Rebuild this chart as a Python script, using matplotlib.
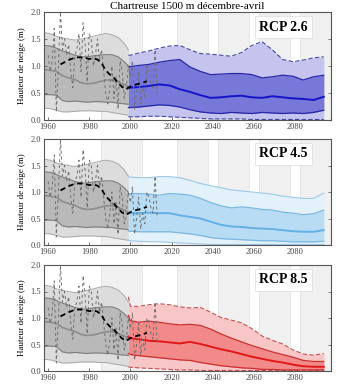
import matplotlib
matplotlib.use("Agg")
import matplotlib.pyplot as plt
import numpy as np

plt.rcParams['font.family'] = ['Liberation Serif', 'DejaVu Serif']

title = "Chartreuse 1500 m décembre-avril"
ylabel = "Hauteur de neige (m)"
scenarios = ["RCP 2.6", "RCP 4.5", "RCP 8.5"]

# ---- reanalysis (grey) ----
hist_years = [1958, 1961, 1964, 1967, 1970, 1973, 1976, 1979, 1982, 1985, 1988, 1991, 1994, 1997, 1999]
hist_q05 = [0.22, 0.21, 0.18, 0.15, 0.15, 0.16, 0.17, 0.17, 0.17, 0.16, 0.16, 0.14, 0.12, 0.10, 0.09]
hist_q25 = [0.47, 0.47, 0.46, 0.36, 0.34, 0.35, 0.34, 0.33, 0.34, 0.34, 0.33, 0.33, 0.31, 0.30, 0.29]
hist_q50 = [0.93, 0.92, 0.90, 0.82, 0.78, 0.75, 0.69, 0.67, 0.68, 0.71, 0.74, 0.74, 0.71, 0.66, 0.62]
hist_q75 = [1.38, 1.37, 1.33, 1.28, 1.24, 1.20, 1.17, 1.17, 1.19, 1.20, 1.21, 1.21, 1.17, 1.08, 1.00]
hist_q95 = [1.62, 1.60, 1.55, 1.52, 1.50, 1.48, 1.50, 1.52, 1.55, 1.58, 1.60, 1.58, 1.53, 1.42, 1.30]

# ---- observations ----
obs_years = list(range(1960, 2014))
obs_values = [1.2, 0.9, 1.1, 1.7, 0.15, 1.0, 2.0, 1.3, 1.5, 1.2,
              1.4, 0.9, 0.6, 1.2, 1.3, 1.6, 0.9, 1.8, 1.4, 0.7,
              1.6, 1.5, 1.0, 1.2, 1.5, 1.1, 1.3, 0.9, 0.5, 0.3,
              0.6, 1.0, 0.4, 0.8, 0.2, 1.1, 0.9, 0.4, 0.6, 1.0,
              0.8, 1.1, 0.2, 0.5, 0.9, 0.3, 0.6, 0.4, 1.0, 0.9,
              0.7, 0.6, 1.3, 0.5]
smooth_years = [1966, 1968, 1970, 1972, 1974, 1976, 1978, 1980, 1982, 1984, 1986,
                1988, 1990, 1992, 1994, 1996, 1998, 2000, 2002, 2004, 2006, 2008]
smooth_values = [1.03, 1.07, 1.11, 1.14, 1.16, 1.16, 1.15, 1.13, 1.14, 1.12, 1.05,
                 0.92, 0.84, 0.78, 0.69, 0.61, 0.57, 0.62, 0.65, 0.67, 0.69, 0.72]

# ---- projections ----
proj_years = [1999, 2000, 2004, 2009, 2014, 2019, 2024, 2029, 2034, 2039, 2044,
              2049, 2054, 2059, 2064, 2069, 2074, 2079, 2084, 2089, 2094]

rcp26_q05 = [0.06, 0.06, 0.06, 0.07, 0.07, 0.06, 0.05, 0.04, 0.03, 0.02, 0.02,
             0.02, 0.02, 0.01, 0.01, 0.01, 0.01, 0.01, 0.01, 0.01, 0.01]
rcp26_q25 = [0.23, 0.23, 0.24, 0.26, 0.28, 0.27, 0.24, 0.19, 0.15, 0.13, 0.12,
             0.14, 0.13, 0.12, 0.14, 0.13, 0.12, 0.13, 0.12, 0.14, 0.18]
rcp26_q50 = [0.60, 0.60, 0.61, 0.63, 0.66, 0.64, 0.57, 0.52, 0.46, 0.41, 0.42,
             0.44, 0.45, 0.42, 0.41, 0.44, 0.42, 0.40, 0.39, 0.37, 0.43]
rcp26_q75 = [0.99, 0.99, 1.01, 1.03, 1.07, 1.10, 1.12, 0.98, 0.90, 0.84, 0.85,
             0.86, 0.86, 0.84, 0.78, 0.80, 0.83, 0.81, 0.74, 0.80, 0.83]
rcp26_q95 = [1.20, 1.20, 1.24, 1.28, 1.33, 1.37, 1.38, 1.30, 1.23, 1.22, 1.20,
             1.18, 1.25, 1.38, 1.45, 1.30, 1.12, 1.08, 1.11, 1.15, 1.17]

rcp45_q05 = [0.09, 0.08, 0.07, 0.06, 0.06, 0.05, 0.04, 0.03, 0.02, 0.01, 0.01,
             0.01, 0.01, 0.01, 0.01, 0.01, 0.01, 0.01, 0.01, 0.01, 0.01]
rcp45_q25 = [0.26, 0.26, 0.25, 0.25, 0.25, 0.25, 0.23, 0.21, 0.18, 0.14, 0.12,
             0.11, 0.10, 0.09, 0.08, 0.08, 0.07, 0.06, 0.06, 0.06, 0.07]
rcp45_q50 = [0.60, 0.60, 0.60, 0.61, 0.60, 0.60, 0.56, 0.53, 0.50, 0.44, 0.38,
             0.35, 0.34, 0.32, 0.31, 0.30, 0.28, 0.26, 0.25, 0.25, 0.28]
rcp45_q75 = [0.97, 0.97, 0.97, 0.96, 0.94, 0.97, 0.96, 0.94, 0.88, 0.80, 0.74,
             0.70, 0.72, 0.70, 0.67, 0.66, 0.62, 0.60, 0.57, 0.59, 0.66]
rcp45_q95 = [1.29, 1.28, 1.27, 1.27, 1.29, 1.29, 1.27, 1.22, 1.16, 1.12, 1.08,
             1.04, 1.02, 1.00, 0.98, 0.96, 0.92, 0.90, 0.88, 0.88, 0.98]

rcp85_q05 = [0.08, 0.07, 0.06, 0.05, 0.04, 0.03, 0.02, 0.02, 0.01, 0.01, 0.01,
             0.01, 0.01, 0.01, 0.01, 0.01, 0.01, 0.01, 0.01, 0.01, 0.01]
rcp85_q25 = [0.33, 0.31, 0.29, 0.27, 0.25, 0.23, 0.21, 0.20, 0.16, 0.13, 0.10,
             0.08, 0.06, 0.05, 0.03, 0.03, 0.02, 0.02, 0.02, 0.02, 0.02]
rcp85_q50 = [0.65, 0.62, 0.60, 0.57, 0.56, 0.54, 0.52, 0.55, 0.51, 0.46, 0.41,
             0.37, 0.32, 0.27, 0.23, 0.19, 0.16, 0.12, 0.09, 0.08, 0.08]
rcp85_q75 = [1.05, 0.95, 0.92, 0.94, 0.92, 0.89, 0.87, 0.88, 0.86, 0.79, 0.70,
             0.62, 0.55, 0.48, 0.42, 0.36, 0.31, 0.26, 0.20, 0.18, 0.18]
rcp85_q95 = [1.40, 1.22, 1.22, 1.25, 1.27, 1.25, 1.21, 1.19, 1.20, 1.11, 1.01,
             0.96, 0.91, 0.80, 0.66, 0.58, 0.51, 0.40, 0.32, 0.30, 0.33]

proj = [
    (rcp26_q05, rcp26_q25, rcp26_q50, rcp26_q75, rcp26_q95),
    (rcp45_q05, rcp45_q25, rcp45_q50, rcp45_q75, rcp45_q95),
    (rcp85_q05, rcp85_q25, rcp85_q50, rcp85_q75, rcp85_q95),
]

# background periods
periods = [(1985.5, 2005.5), (2022.5, 2037.5), (2042.5, 2057.5), (2062.5, 2077.5), (2082.5, 2097.5)]

styles = [
    dict(outer='#c4c4ee', inner='#7878d8', edge_out='#4848a8', edge_in='#2626a8', med='#1414c8', dashed=True),
    dict(outer='#e3f1fb', inner='#b8dcf4', edge_out='#9cc8e6', edge_in='#7ab8e0', med='#64b0e4', dashed=False),
    dict(outer='#f8c6c6', inner='#f28a8a', edge_out='#c85050', edge_in='#c83030', med='#e01818', dashed=True),
]

fig = plt.figure(figsize=(3.5, 3.88), dpi=100)
rects = [
    [44/350, (388-120)/388, 287/350, 108/388],
    [44/350, (388-245)/388, 287/350, 106/388],
    [44/350, (388-371)/388, 287/350, 106/388],
]

for i, (rect, sc, q, st) in enumerate(zip(rects, scenarios, proj, styles)):
    ax = fig.add_axes(rect)
    ax.set_xlim(1958, 2097.5)
    ax.set_ylim(0, 2.0)
    for a, b in periods:
        ax.axvspan(a, b, color='#f0f0f0', zorder=0, lw=0)
        ax.axvline(a, color='#e0e0e0', lw=0.5, zorder=0.1)
        ax.axvline(b, color='#e0e0e0', lw=0.5, zorder=0.1)
    # grey reanalysis
    ax.fill_between(hist_years, hist_q05, hist_q95, color='#dcdcdc', zorder=1, lw=0)
    ax.fill_between(hist_years, hist_q25, hist_q75, color='#b9b9b9', zorder=1.1, lw=0)
    ax.plot(hist_years, hist_q05, color='#a8a8a8', lw=0.7, zorder=1.2)
    ax.plot(hist_years, hist_q95, color='#a8a8a8', lw=0.7, zorder=1.2)
    ax.plot(hist_years, hist_q25, color='#7c7c7c', lw=0.8, zorder=1.2)
    ax.plot(hist_years, hist_q75, color='#7c7c7c', lw=0.8, zorder=1.2)
    ax.plot(hist_years, hist_q50, color='#8c8c8c', lw=1.2, zorder=1.3)
    # projections
    q05, q25, q50, q75, q95 = q
    ax.fill_between(proj_years, q05, q95, color=st['outer'], zorder=2, lw=0)
    ax.fill_between(proj_years, q25, q75, color=st['inner'], zorder=2.1, lw=0)
    ls_out = (0, (4, 2)) if st['dashed'] else '-'
    ax.plot(proj_years, q05, color=st['edge_out'], lw=0.8, ls=ls_out, zorder=2.2)
    ax.plot(proj_years, q95, color=st['edge_out'], lw=0.8, ls=ls_out, zorder=2.2)
    ax.plot(proj_years, q25, color=st['edge_in'], lw=0.9, zorder=2.2)
    ax.plot(proj_years, q75, color=st['edge_in'], lw=0.9, zorder=2.2)
    ax.plot(proj_years, q50, color=st['med'], lw=1.4, zorder=2.3)
    # observations
    ax.plot(obs_years, obs_values, color='#707070', lw=0.7, ls=(0, (3, 3)), zorder=3)
    ax.plot(smooth_years, smooth_values, color='black', lw=1.3, ls=(0, (3, 2)), zorder=3.1)

    ax.text(0.835, 0.86, sc, transform=ax.transAxes, ha='center', va='center',
            fontsize=10, fontweight='bold', zorder=5,
            bbox=dict(boxstyle='square,pad=0.3', fc='white', ec='#dddddd', lw=0.5))

    ax.set_xticks([1960, 1980, 2000, 2020, 2040, 2060, 2080])
    ax.set_yticks([0.0, 0.5, 1.0, 1.5, 2.0])
    ax.set_yticklabels(['0.0', '0.5', '1.0', '1.5', '2.0'])
    ax.tick_params(labelsize=6, length=2, width=0.5, direction='in', right=True,
                   colors='#444444', pad=2)
    for s in ax.spines.values():
        s.set_color('#555555')
        s.set_linewidth(0.8)
    ax.set_ylabel(ylabel, fontsize=6.5, labelpad=3)
    if i == 0:
        ax.set_title(title, fontsize=8, pad=2)

fig.savefig('out.png', dpi=100)
